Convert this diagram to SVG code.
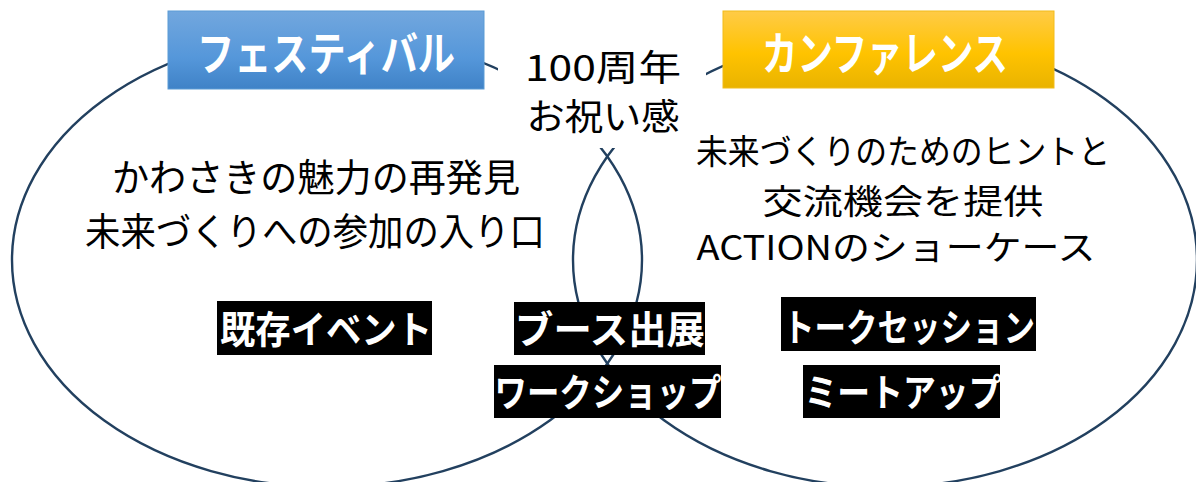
<svg xmlns="http://www.w3.org/2000/svg" width="1196" height="482" viewBox="0 0 1196 482">
<style>
.ring{fill:none;stroke:#22405F;stroke-width:2.4}
.t{font-family:"Noto Sans CJK JP","Noto Sans",sans-serif;fill:#000;text-anchor:middle}
.hd{font-family:"Noto Sans CJK JP","Noto Sans",sans-serif;fill:#fff;font-weight:bold;font-size:46px;text-anchor:middle}
.lb{font-family:"Noto Sans CJK JP","Noto Sans",sans-serif;fill:#fff;font-weight:bold;font-size:38px;text-anchor:middle}
.box{fill:#000}
</style>
<defs>
<linearGradient id="gBlue" x1="0" y1="0" x2="0" y2="1">
<stop offset="0" stop-color="#72A7DE"/>
<stop offset="0.6" stop-color="#5597DA"/>
<stop offset="1" stop-color="#3F82C7"/>
</linearGradient>
<linearGradient id="gGold" x1="0" y1="0" x2="0" y2="1">
<stop offset="0" stop-color="#FFCB47"/>
<stop offset="0.55" stop-color="#FFC300"/>
<stop offset="1" stop-color="#E9B300"/>
</linearGradient>
</defs>
<rect width="1196" height="482" fill="#fff"/>
<g id="connectors">
<ellipse id="festival-circle" class="ring" cx="327" cy="260" rx="315" ry="227"/>
<ellipse id="conference-circle" class="ring" cx="885" cy="260" rx="312" ry="227"/>
</g>
<g id="anniversary">
<rect x="498" y="20" width="208" height="128" fill="#fff"/>
<text class="t" x="603" y="81" font-size="36" textLength="156" lengthAdjust="spacingAndGlyphs">100周年</text>
<text class="t" x="603" y="130" font-size="36" textLength="153" lengthAdjust="spacingAndGlyphs">お祝い感</text>
</g>
<g id="festival-header">
<rect x="168" y="11" width="316" height="78" fill="url(#gBlue)" stroke="#5B9BD5" stroke-width="1"/>
<text class="hd" x="326" y="70" textLength="258" lengthAdjust="spacingAndGlyphs">フェスティバル</text>
</g>
<g id="conference-header">
<rect x="723" y="11" width="331" height="77" fill="url(#gGold)" stroke="#F2BC1A" stroke-width="1"/>
<text class="hd" x="885" y="70" textLength="246" lengthAdjust="spacingAndGlyphs">カンファレンス</text>
</g>
<g id="festival-text">
<text class="t" x="316" y="191" font-size="38" textLength="408" lengthAdjust="spacingAndGlyphs">かわさきの魅力の再発見</text>
<text class="t" x="315" y="245" font-size="38" textLength="460" lengthAdjust="spacingAndGlyphs">未来づくりへの参加の入り口</text>
</g>
<g id="conference-text">
<text class="t" x="903" y="164" font-size="34" textLength="414" lengthAdjust="spacingAndGlyphs">未来づくりのためのヒントと</text>
<text class="t" x="903" y="214" font-size="34" textLength="281" lengthAdjust="spacingAndGlyphs">交流機会を提供</text>
<text class="t" x="896" y="260" font-size="34" textLength="399" lengthAdjust="spacingAndGlyphs">ACTIONのショーケース</text>
</g>
<g id="existing-events">
<rect class="box" x="217" y="301" width="215" height="54"/>
<text class="lb" x="326" y="343" textLength="212" lengthAdjust="spacingAndGlyphs">既存イベント</text>
</g>
<g id="booth">
<rect class="box" x="514" y="302" width="191" height="53"/>
<text class="lb" x="610" y="343" textLength="190" lengthAdjust="spacingAndGlyphs">ブース出展</text>
</g>
<g id="workshop">
<rect class="box" x="494" y="365" width="227" height="53"/>
<text class="lb" x="608" y="406" textLength="227" lengthAdjust="spacingAndGlyphs">ワークショップ</text>
</g>
<g id="talk-session">
<rect class="box" x="781" y="297" width="255" height="54"/>
<text class="lb" x="909" y="341" textLength="252" lengthAdjust="spacingAndGlyphs">トークセッション</text>
</g>
<g id="meetup">
<rect class="box" x="803" y="365" width="197" height="53"/>
<text class="lb" x="903" y="406" textLength="197" lengthAdjust="spacingAndGlyphs">ミートアップ</text>
</g>
</svg>
